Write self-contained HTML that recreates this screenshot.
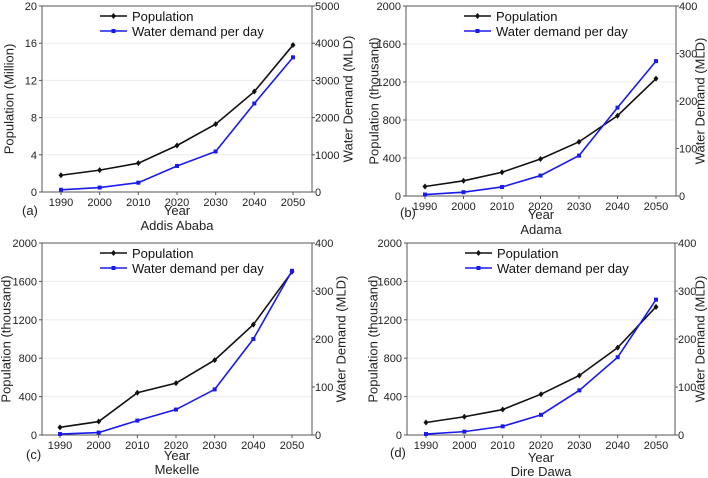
<!DOCTYPE html>
<html><head><meta charset="utf-8"><style>
body{margin:0;background:#fff}
svg{display:block;font-family:"Liberation Sans",Arial,sans-serif}
</style></head><body>
<svg id="chart" width="708" height="478" viewBox="0 0 708 478" xmlns="http://www.w3.org/2000/svg"></svg>
<script>
const years = [1990, 2000, 2010, 2020, 2030, 2040, 2050];
const xTickLabels = ["1990","2000","2010","2020","2030","2040","2050"];

const popA = [1.8, 2.35, 3.1, 5.0, 7.3, 10.8, 15.8];
const waterA = [60, 120, 250, 700, 1090, 2380, 3620];
const popTicksA = [0, 4, 8, 12, 16, 20];
const waterTicksA = [0, 1000, 2000, 3000, 4000, 5000];

const popB = [100, 160, 250, 390, 570, 845, 1235];
const waterB = [3, 8, 19, 43, 85, 186, 284];
const popC = [80, 140, 440, 540, 780, 1150, 1700];
const waterC = [2, 5, 30, 53, 95, 200, 342];
const popD = [130, 190, 265, 425, 620, 910, 1335];
const waterD = [2, 7, 18, 42, 93, 162, 282];
const popTicksK = [0, 400, 800, 1200, 1600, 2000];
const waterTicksK = [0, 100, 200, 300, 400];

const panels = [
  {id:'a', L:42, R:312, T:6, B:192, x0:61, x1:293, pop:popA, water:waterA, pt:popTicksA, wt:waterTicksA,
   yl:'Population (Million)', ylx:9, yrx:348, city:'Addis Ababa', yearY:215, cityY:230, tag:'(a)', tagX:22, tagY:215},
  {id:'b', L:406, R:676, T:6, B:196, x0:425, x1:656, pop:popB, water:waterB, pt:popTicksK, wt:waterTicksK,
   yl:'Population (thousand)', ylx:374, yrx:700, city:'Adama', yearY:219, cityY:234, tag:'(b)', tagX:400, tagY:217},
  {id:'c', L:42, R:312, T:243, B:435, x0:60, x1:292, pop:popC, water:waterC, pt:popTicksK, wt:waterTicksK,
   yl:'Population (thousand)', ylx:6, yrx:341, city:'Mekelle', yearY:460, cityY:474, tag:'(c)', tagX:26, tagY:459},
  {id:'d', L:407, R:675, T:243, B:435, x0:426, x1:656, pop:popD, water:waterD, pt:popTicksK, wt:waterTicksK,
   yl:'Population (thousand)', ylx:373, yrx:700, city:'Dire Dawa', yearY:462, cityY:476, tag:'(d)', tagX:390, tagY:457}
];

const svg = document.getElementById('chart');
const NS = 'http://www.w3.org/2000/svg';
function mk(tag, attrs, parent){
  const e = document.createElementNS(NS, tag);
  for (const k in attrs) e.setAttribute(k, attrs[k]);
  (parent||svg).appendChild(e);
  return e;
}
function txt(s, attrs, parent){ const e = mk('text', attrs, parent); e.textContent = s; return e; }

panels.forEach(p => {
  const g = mk('g', {});
  
  
  const xs = y => p.x0 + (y - years[0]) / (years[years.length-1] - years[0]) * (p.x1 - p.x0);
  const pmax = p.pt[p.pt.length-1], wmax = p.wt[p.wt.length-1];
  const ysL = v => p.B - v / pmax * (p.B - p.T);
  const ysR = v => p.B - v / wmax * (p.B - p.T);
  p.pt.forEach(t => {
    if (t === 0 || t === pmax) return;
    const gl = mk('line', {x1:p.L, x2:p.R, y1:ysL(t), y2:ysL(t), stroke:'#ebebeb', 'stroke-width':1}, g);
    
    
  });
  const frame = mk('rect', {x:p.L, y:p.T, width:p.R-p.L, height:p.B-p.T, fill:'none', stroke:'#555', 'stroke-width':1}, g);
  
  
  p.pt.forEach(t => {
    const y = ysL(t);
    mk('line', {x1:p.L-3, x2:p.L, y1:y, y2:y, stroke:'#555'}, g);
    const l = txt(String(t), {x:p.L-5, y:y+4, 'font-size':11, 'text-anchor':'end', fill:'#222'}, g);
    
    
  });
  p.wt.forEach(t => {
    const y = ysR(t);
    mk('line', {x1:p.R, x2:p.R+3, y1:y, y2:y, stroke:'#555'}, g);
    const l = txt(String(t), {x:p.R+3, y:y+4, 'font-size':11, 'text-anchor':'start', fill:'#222'}, g);
    
    
  });
  years.forEach((yr, i) => {
    const x = xs(yr);
    mk('line', {x1:x, x2:x, y1:p.B, y2:p.B+3, stroke:'#555'}, g);
    const l = txt(xTickLabels[i], {x:x, y:p.B+14, 'font-size':11, 'text-anchor':'middle', fill:'#222'}, g);
    
    
  });
  const popPts = years.map((y,i) => xs(y)+','+ysL(p.pop[i])).join(' ');
  const pl = mk('polyline', {points:popPts, fill:'none', stroke:'#111', 'stroke-width':1.6}, g);
  
  
  years.forEach((y,i) => {
    const cx = xs(y), cy = ysL(p.pop[i]);
    const m = mk('path', {d:`M${cx} ${cy-3}L${cx+2.5} ${cy}L${cx} ${cy+3}L${cx-2.5} ${cy}Z`, fill:'#111'}, g);
    
    
  });
  const wPts = years.map((y,i) => xs(y)+','+ysR(p.water[i])).join(' ');
  const wl = mk('polyline', {points:wPts, fill:'none', stroke:'#1a1aee', 'stroke-width':1.6}, g);
  
  
  years.forEach((y,i) => {
    const cx = xs(y), cy = ysR(p.water[i]);
    const m = mk('rect', {x:cx-2, y:cy-2, width:4, height:4, fill:'#1a1aee'}, g);
    
    
  });
  const lx = p.L + 58, ly = p.T + 10;
  const lg = mk('g', {}, g);
  
  
  mk('line', {x1:lx, x2:lx+27, y1:ly, y2:ly, stroke:'#111', 'stroke-width':1.6}, lg);
  mk('path', {d:`M${lx+13.5} ${ly-3}L${lx+16} ${ly}L${lx+13.5} ${ly+3}L${lx+11} ${ly}Z`, fill:'#111'}, lg);
  const t1 = txt('Population', {x:lx+32, y:ly+5, 'font-size':13, fill:'#111'}, lg);
  
  
  mk('line', {x1:lx, x2:lx+27, y1:ly+15, y2:ly+15, stroke:'#1a1aee', 'stroke-width':1.6}, lg);
  mk('rect', {x:lx+11.5, y:ly+13, width:4, height:4, fill:'#1a1aee'}, lg);
  const t2 = txt('Water demand per day', {x:lx+32, y:ly+20, 'font-size':13, fill:'#111'}, lg);
  
  
  const cy = (p.T + p.B) / 2;
  const yl = txt(p.yl, {x:p.ylx, y:cy, 'font-size':13, 'text-anchor':'middle', fill:'#222', transform:`rotate(-90 ${p.ylx} ${cy})`, 'dominant-baseline':'central'}, g);
  
  
  const yr = txt('Water Demand (MLD)', {x:p.yrx, y:cy, 'font-size':13, 'text-anchor':'middle', fill:'#222', transform:`rotate(-90 ${p.yrx} ${cy})`, 'dominant-baseline':'central'}, g);
  
  
  const cx = (p.L + p.R) / 2;
  const xt = txt('Year', {x:cx, y:p.yearY, 'font-size':13, 'text-anchor':'middle', fill:'#222'}, g);
  
  
  const ct = txt(p.city, {x:cx, y:p.cityY, 'font-size':13, 'text-anchor':'middle', fill:'#222'}, g);
  
  
  const tg = txt(p.tag, {x:p.tagX, y:p.tagY, 'font-size':13, fill:'#222'}, g);
  
  
});
</script>
</body></html>
